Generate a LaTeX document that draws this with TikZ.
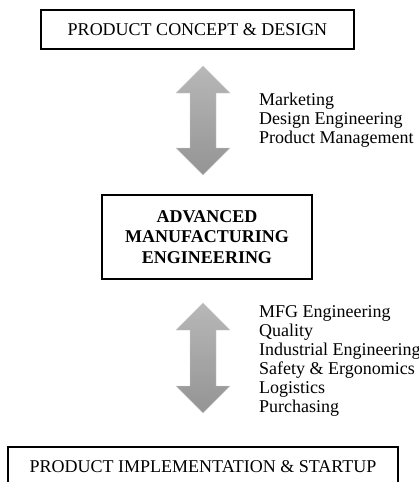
\documentclass[tikz,border=0pt]{standalone}
\usepackage{fontspec}
\setmainfont{Liberation Serif}
\usetikzlibrary{calc, positioning}
\definecolor{ArrowLight}{gray}{0.72}
\definecolor{ArrowDark}{gray}{0.58}

\begin{document}
\begin{tikzpicture}[x = 1pt, y = -1pt]%
    %
    \def\headwidth{27}%
    \def\headlength{27}%
    \def\shaftwidth{13}%
    %
    \tikzstyle{stage} = [draw = black, line width = 1.6pt, inner sep = 0pt, align = center, font = \fontsize{18}{20.5}\selectfont]%
    \tikzstyle{group} = [anchor = north west, inner sep = 0pt, align = left, font = \fontsize{18}{19}\selectfont]%
    \tikzstyle{flow} = [top color = ArrowLight, bottom color = ArrowDark, draw = ArrowLight!70!white, line width = .4pt]%
    %
    \def\flowarrow(#1)(#2){% Syntax: (upper tip) (lower tip)
        \path [flow] (#1) -- ($(#1)+(\headwidth,\headlength)$) -- ($(#1)+(\shaftwidth,\headlength)$)%
            -- ($(#2)+(\shaftwidth,-\headlength)$) -- ($(#2)+(\headwidth,-\headlength)$) -- (#2)%
            -- ($(#2)+(-\headwidth,-\headlength)$) -- ($(#2)+(-\shaftwidth,-\headlength)$)%
            -- ($(#1)+(-\shaftwidth,\headlength)$) -- ($(#1)+(-\headwidth,\headlength)$) -- cycle;%
    }%
    %
    \useasboundingbox (0, 0) rectangle (419, 482);%
    \clip (0, 0) rectangle (419, 482);%
    %
    \node (concept) [stage, minimum width = 313pt, minimum height = 39pt] at (197.5, 29.5) {PRODUCT CONCEPT \& DESIGN};%
    \node (amfg) [stage, minimum width = 210pt, minimum height = 84pt] at (207, 237) {\bfseries ADVANCED\\\bfseries MANUFACTURING\\\bfseries ENGINEERING};%
    \node (startup) [stage, minimum width = 390pt, minimum height = 40pt] at (203, 467) {PRODUCT IMPLEMENTATION \& STARTUP};%
    %
    \coordinate (up1) at (203, 66);%
    \coordinate (down1) at (203, 175);%
    \coordinate (up2) at (203, 303);%
    \coordinate (down2) at (203, 413);%
    %
    \flowarrow(up1)(down1);%
    \flowarrow(up2)(down2);%
    %
    \node (designgroup) [group] at (259, 92.5) {Marketing\\Design Engineering\\Product Management};%
    \node (mfggroup) [group] at (259, 305.5) {MFG Engineering\\Quality\\Industrial Engineering\\Safety \& Ergonomics\\Logistics\\Purchasing};%
\end{tikzpicture}
\end{document}
